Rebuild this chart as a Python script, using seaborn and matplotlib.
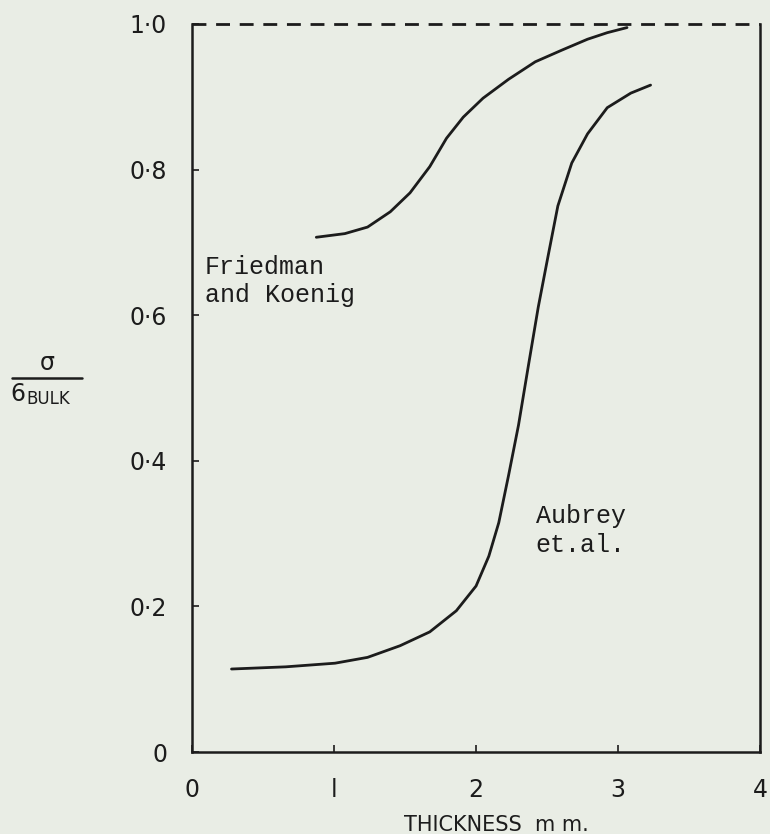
import matplotlib
matplotlib.use("Agg")
import matplotlib.pyplot as plt
import seaborn as sns
import pandas as pd

# Friedman and Koenig curve
fk_x = [0.875, 1.076, 1.236, 1.396, 1.535, 1.674, 1.792, 1.910, 2.049, 2.229, 2.417, 2.604, 2.785, 2.924, 3.063]
fk_y = [0.707, 0.712, 0.721, 0.742, 0.768, 0.804, 0.843, 0.872, 0.898, 0.924, 0.948, 0.964, 0.979, 0.988, 0.995]

# Aubrey et.al. curve
au_x = [0.278, 0.660, 1.007, 1.236, 1.465, 1.674, 1.861, 2.000, 2.090, 2.160, 2.229, 2.299, 2.368,
        2.438, 2.507, 2.576, 2.674, 2.785, 2.924, 3.090, 3.229]
au_y = [0.114, 0.117, 0.122, 0.130, 0.146, 0.165, 0.194, 0.228, 0.269, 0.315, 0.380, 0.449, 0.530,
        0.611, 0.681, 0.750, 0.809, 0.849, 0.885, 0.905, 0.916]

x_ticks = [0, 1, 2, 3, 4]
x_tick_labels = ["0", "l", "2", "3", "4"]
y_ticks = [0, 0.2, 0.4, 0.6, 0.8, 1.0]
y_tick_labels = ["0", "0·2", "0·4", "0·6", "0·8", "1·0"]

bg = "#e9ede5"
ink = "#1c1c1c"

sns.set_style("ticks")
plt.rcParams["font.family"] = ["DejaVu Sans"]

fig = plt.figure(figsize=(7.7, 8.34), dpi=100, facecolor=bg)
ax = fig.add_axes([0.2494, 0.0983, 0.7377, 0.873])
ax.set_facecolor(bg)

df_fk = pd.DataFrame({"x": fk_x, "y": fk_y})
df_au = pd.DataFrame({"x": au_x, "y": au_y})
sns.lineplot(data=df_fk, x="x", y="y", ax=ax, color=ink, linewidth=2.0, sort=False)
sns.lineplot(data=df_au, x="x", y="y", ax=ax, color=ink, linewidth=2.0, sort=False)

ax.set_xlim(0, 4)
ax.set_ylim(0, 1.0)

# dashed top at 1.0
ax.axhline(1.0, color=ink, linestyle=(0, (5, 3.5)), linewidth=2.0, clip_on=False)
ax.spines["top"].set_visible(False)
for s in ["left", "bottom", "right"]:
    ax.spines[s].set_color(ink)
    ax.spines[s].set_linewidth(1.8)

ax.set_xticks(x_ticks)
ax.set_xticklabels(x_tick_labels)
ax.set_yticks(y_ticks)
ax.set_yticklabels(y_tick_labels)
ax.tick_params(axis="both", direction="in", length=5, width=1.2, color=ink,
               labelsize=17, labelcolor=ink)
ax.tick_params(axis="x", pad=19)
ax.tick_params(axis="y", pad=18)
ax.set_xlabel("")
ax.set_ylabel("")

# curve labels
ax.text(0.09, 0.683, "Friedman\nand Koenig", family=["Liberation Mono"], fontsize=18,
        color=ink, va="top", ha="left", linespacing=1.25)
ax.text(2.42, 0.34, "Aubrey\net.al.", family=["Liberation Mono"], fontsize=18,
        color=ink, va="top", ha="left", linespacing=1.25)

# y axis label: sigma / sigma_BULK
fig.text(0.062, 0.565, "σ", fontsize=17, color=ink, ha="center", va="center")
fig.add_artist(plt.Line2D([0.016, 0.106], [0.547, 0.547], color=ink, linewidth=1.8))
fig.text(0.014, 0.527, "6", fontsize=17, color=ink, ha="left", va="center")
fig.text(0.034, 0.521, "BULK", fontsize=12, color=ink, ha="left", va="center")

# x axis label
fig.text(0.645, 0.011, "THICKNESS  m m.", fontsize=15, color=ink, ha="center", va="center")

fig.savefig("out.png", dpi=100, facecolor=bg)
